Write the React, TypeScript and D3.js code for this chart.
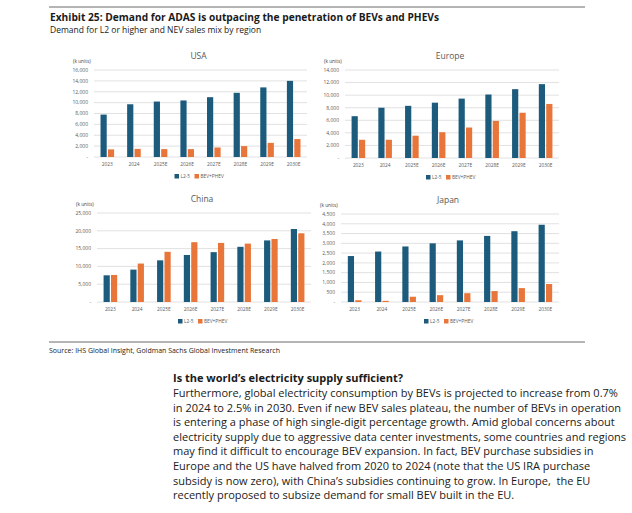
import React from "react";
import * as d3 from "d3";

const years = ["2023", "2024", "2025E", "2026E", "2027E", "2028E", "2029E", "2030E"];

const usaL25 = [7800, 9700, 10200, 10400, 11000, 11800, 12800, 14000];
const usaBev = [1400, 1500, 1450, 1450, 1750, 2000, 2600, 3300];
const europeL25 = [6650, 8000, 8300, 8800, 9450, 10100, 10950, 11750];
const europeBev = [2900, 2900, 3550, 4100, 4850, 5900, 7200, 8600];
const chinaL25 = [7500, 9100, 11700, 13200, 14000, 15500, 17300, 20500];
const chinaBev = [7600, 10800, 14100, 16800, 16600, 16400, 17700, 19300];
const japanL25 = [2350, 2580, 2840, 3000, 3150, 3380, 3620, 3950];
const japanBev = [90, 60, 270, 350, 450, 560, 710, 920];

const seriesNames = ["L2-5", "BEV+PHEV"];
const BLUE = "#1c5b7c";
const ORANGE = "#e8763a";
const FONT = "'Open Sans', 'Noto Sans', sans-serif";

const bodyLines = [
  "Furthermore, global electricity consumption by BEVs is projected to increase from 0.7%",
  "in 2024 to 2.5% in 2030. Even if new BEV sales plateau, the number of BEVs in operation",
  "is entering a phase of high single-digit percentage growth. Amid global concerns about",
  "electricity supply due to aggressive data center investments, some countries and regions",
  "may find it difficult to encourage BEV expansion. In fact, BEV purchase subsidies in",
  "Europe and the US have halved from 2020 to 2024 (note that the US IRA purchase",
  "subsidy is now zero), with China\u2019s subsidies continuing to grow. In Europe,  the EU",
  "recently proposed to subsize demand for small BEV built in the EU.",
];

type PanelProps = {
  title: string;
  a: number[];
  b: number[];
  max: number;
  step: number;
  left: number;
  right: number;
  top: number;
  bottom: number;
};

function Panel({ title, a, b, max, step, left, right, top, bottom }: PanelProps) {
  const x = d3.scaleBand<string>().domain(years).range([left, right]).paddingInner(0).paddingOuter(0);
  const y = d3.scaleLinear().domain([0, max]).range([bottom, top]);
  const ticks = d3.range(0, max + 1, step);
  const fmt = d3.format(",");
  const bw = 6.2;
  const gap = 1.2;
  const cx = (left + right) / 2;
  return (
    <g>
      <text x={cx - 2} y={top - 11} textAnchor="middle" fontSize={8.5} fill="#595959" fontFamily={FONT}>
        {title}
      </text>
      <text x={left - 21} y={top - 7} fontSize={4.8} fill="#404040" fontFamily={FONT}>
        (k units)
      </text>
      {ticks.map((t) => (
        <g key={t}>
          {t > 0 && <line x1={left} x2={right} y1={y(t)} y2={y(t)} stroke="#d9d9d9" strokeWidth={0.8} />}
          <text x={left - 6} y={y(t) + 1.8} textAnchor="end" fontSize={5} fill="#595959" fontFamily={FONT}>
            {t === 0 ? "-" : fmt(t)}
          </text>
        </g>
      ))}
      <line x1={left} x2={right} y1={bottom} y2={bottom} stroke="#d9d9d9" strokeWidth={0.8} />
      {years.map((yr, i) => {
        const c = (x(yr) as number) + x.bandwidth() / 2;
        return (
          <g key={yr}>
            <rect x={c - gap / 2 - bw} y={y(a[i])} width={bw} height={bottom - y(a[i])} fill={BLUE} />
            <rect x={c + gap / 2} y={y(b[i])} width={bw} height={bottom - y(b[i])} fill={ORANGE} />
            <text x={c} y={bottom + 8.5} textAnchor="middle" fontSize={4.8} fill="#595959" fontFamily={FONT}>
              {yr}
            </text>
          </g>
        );
      })}
      <g transform={`translate(${cx - 26},${bottom + 21})`}>
        <rect x={0} y={-4} width={4.5} height={4.5} fill={BLUE} />
        <text x={6} y={0} fontSize={4.8} fill="#595959" fontFamily={FONT}>
          {seriesNames[0]}
        </text>
        <rect x={20} y={-4} width={4.5} height={4.5} fill={ORANGE} />
        <text x={26} y={0} fontSize={4.8} fill="#595959" fontFamily={FONT}>
          {seriesNames[1]}
        </text>
      </g>
    </g>
  );
}

export default function App() {
  return (
    <svg
      width={632}
      height={513}
      style={{ position: "absolute", left: 0, top: 0, background: "#fff" }}
    >
      <rect width={632} height={513} fill="#fff" />
      <line x1={49} x2={585} y1={7} y2={7} stroke="#6b6b6b" strokeWidth={1} />
      <text x={50} y={20.5} fontSize={10.2} fontWeight="bold" fill="#1a1a1a" fontFamily={FONT}>
        Exhibit 25: Demand for ADAS is outpacing the penetration of BEVs and PHEVs
      </text>
      <text x={50} y={32.5} fontSize={8.5} fill="#1a1a1a" fontFamily={FONT}>
        Demand for L2 or higher and NEV sales mix by region
      </text>

      <Panel title="USA" a={usaL25} b={usaBev} max={16000} step={2000} left={94} right={307} top={70} bottom={157} />
      <Panel title="Europe" a={europeL25} b={europeBev} max={14000} step={2000} left={345} right={559} top={70} bottom={158} />
      <Panel title="China" a={chinaL25} b={chinaBev} max={25000} step={5000} left={97} right={311} top={213} bottom={302} />
      <Panel title="Japan" a={japanL25} b={japanBev} max={4500} step={500} left={341} right={559} top={214} bottom={302} />

      <line x1={49} x2={585} y1={342} y2={342} stroke="#6b6b6b" strokeWidth={1} />
      <text x={49} y={353} fontSize={7} fill="#1a1a1a" fontFamily={FONT}>
        Source: IHS Global Insight, Goldman Sachs Global Investment Research
      </text>

      <text x={173} y={382} fontSize={11} fontWeight="bold" fill="#1a1a1a" fontFamily={FONT}>
        Is the world{"\u2019"}s electricity supply sufficient?
      </text>
      {bodyLines.map((l, i) => (
        <text key={i} x={173} y={397 + i * 14.6} fontSize={11} fill="#1a1a1a" fontFamily={FONT} style={{ whiteSpace: "pre" }}>
          {l}
        </text>
      ))}
    </svg>
  );
}
